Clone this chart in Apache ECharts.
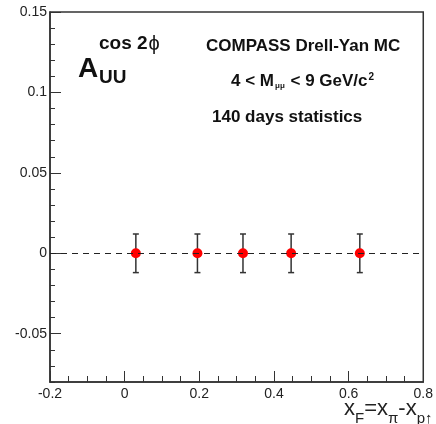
<!DOCTYPE html>
<html>
<head>
<meta charset="utf-8">
<script src="https://cdn.jsdelivr.net/npm/echarts@6/dist/echarts.min.js"></script>
<style>
html,body{margin:0;padding:0;background:#fff;}
#chart{width:436px;height:424px;}
</style>
</head>
<body>
<div id="chart"></div>
<script>
const xValues = [0.03, 0.195, 0.317, 0.446, 0.63];
const yValues = [0, 0, 0, 0, 0];
const yErrors = [0.012, 0.012, 0.012, 0.012, 0.012];
const xMin = -0.2, xMax = 0.8, xStep = 0.2;
const yMin = -0.08, yMax = 0.15;
const yMajorTicks = [-0.05, 0, 0.05, 0.1, 0.15];
const yLabelText = ['-0.05', '0', '0.05', '0.1', '0.15'];

const FAM = 'Liberation Sans, Arial, Helvetica, sans-serif';
const INK = '#222';

const points = xValues.map((x, i) => [x, yValues[i], yErrors[i]]);

const chart = echarts.init(document.getElementById('chart'), null, {renderer: 'canvas'});

const option = {
  animation: false,
  backgroundColor: '#fff',
  grid: {left: 50, right: 6, top: 12, bottom: 42, show: true, borderColor: '#333', borderWidth: 1.5, backgroundColor: 'transparent'},
  xAxis: {
    type: 'value', min: xMin, max: xMax, interval: xStep,
    axisLine: {show: true, onZero: false, lineStyle: {color: '#333', width: 1.5}},
    axisTick: {show: true, inside: true, length: 11, lineStyle: {color: '#333', width: 1}},
    minorTick: {show: true, splitNumber: 4, length: 6, lineStyle: {color: '#333', width: 1}},
    axisLabel: {color: INK, fontFamily: FAM, fontSize: 14, margin: 5, showMaxLabel: true, showMinLabel: true,
      formatter: v => String(Math.round(v * 10) / 10)},
    splitLine: {show: false}
  },
  yAxis: [{
    type: 'value', min: yMin, max: yMax, interval: 0.01,
    axisLine: {show: true, onZero: false, lineStyle: {color: '#333', width: 1.5}},
    axisTick: {show: true, inside: true, length: 5, lineStyle: {color: '#333', width: 1}},
    axisLabel: {show: false},
    splitLine: {show: false}
  }, {
    type: 'value', min: yMin, max: yMax, position: 'left',
    axisLine: {show: false, onZero: false},
    axisTick: {show: true, inside: true, length: 11, customValues: yMajorTicks, lineStyle: {color: '#333', width: 1}},
    axisLabel: {color: INK, fontFamily: FAM, fontSize: 14, margin: 3, customValues: yMajorTicks,
      formatter: v => { const i = yMajorTicks.findIndex(t => Math.abs(t - v) < 1e-9); return i >= 0 ? yLabelText[i] : ''; }},
    splitLine: {show: false}
  }],
  series: [{
    type: 'custom',
    yAxisIndex: 0,
    z: 3,
    silent: true,
    data: points,
    renderItem: function (params, api) {
      const x = api.value(0), y = api.value(1), e = api.value(2);
      const hi = api.coord([x, y + e]);
      const lo = api.coord([x, y - e]);
      const cap = 3;
      const style = {stroke: '#333', lineWidth: 1.5};
      return {type: 'group', children: [
        {type: 'line', shape: {x1: hi[0], y1: hi[1], x2: lo[0], y2: lo[1]}, style: style},
        {type: 'line', shape: {x1: hi[0] - cap, y1: hi[1], x2: hi[0] + cap, y2: hi[1]}, style: style},
        {type: 'line', shape: {x1: lo[0] - cap, y1: lo[1], x2: lo[0] + cap, y2: lo[1]}, style: style}
      ]};
    },
    markLine: {
      silent: true, symbol: 'none', label: {show: false},
      lineStyle: {color: '#222', type: [6, 5], width: 1},
      data: [{yAxis: 0}]
    }
  }, {
    type: 'scatter',
    yAxisIndex: 0,
    z: 4,
    silent: true,
    symbol: 'circle',
    symbolSize: 10,
    itemStyle: {color: '#ff0000', opacity: 1},
    data: xValues.map((x, i) => [x, yValues[i]])
  }],
  graphic: [
    {type: 'text', left: 78, top: 55, style: {text: 'A', fontFamily: FAM, fontWeight: 'bold', fontSize: 28, fill: '#111'}},
    {type: 'text', left: 99, top: 34, style: {text: '{b|cos 2}{g|ϕ}', fill: '#111',
      rich: {b: {fontFamily: FAM, fontWeight: 'bold', fontSize: 19, fill: '#111'}, g: {fontFamily: FAM, fontSize: 20, fill: '#111', padding: [0, 0, 0, 1]}}}},
    {type: 'text', left: 99, top: 68, style: {text: 'UU', fontFamily: FAM, fontWeight: 'bold', fontSize: 19, fill: '#111'}},
    {type: 'text', left: 206, top: 38, style: {text: 'COMPASS Drell-Yan MC', fontFamily: FAM, fontWeight: 'bold', fontSize: 17, fill: '#111'}},
    {type: 'text', left: 231, top: 69, style: {text: '{a|4 < M}{s|μμ}{a| < 9 GeV/c}{p|2}', fill: '#111',
      rich: {
        a: {fontFamily: FAM, fontWeight: 'bold', fontSize: 17, fill: '#111', lineHeight: 24, verticalAlign: 'middle'},
        s: {fontFamily: FAM, fontWeight: 'bold', fontSize: 8, fill: '#111', lineHeight: 24, verticalAlign: 'bottom', padding: [0, 1, 3, 1]},
        p: {fontFamily: FAM, fontWeight: 'bold', fontSize: 10, fill: '#111', lineHeight: 24, verticalAlign: 'top', padding: [3, 0, 0, 1]}
      }}},
    {type: 'text', left: 212, top: 109, style: {text: '140 days statistics', fontFamily: FAM, fontWeight: 'bold', fontSize: 17, fill: '#111'}},
    {type: 'text', left: 344, top: 398, style: {text: '{a|x}{s|F}{a|=x}{s|π}{a|-x}{s|p↑}', fill: INK,
      rich: {
        a: {fontFamily: FAM, fontSize: 22, fill: INK, lineHeight: 28, verticalAlign: 'top'},
        s: {fontFamily: FAM, fontSize: 15, fill: INK, lineHeight: 28, verticalAlign: 'bottom'}
      }}}
  ]
};
chart.setOption(option);
</script>
</body>
</html>
